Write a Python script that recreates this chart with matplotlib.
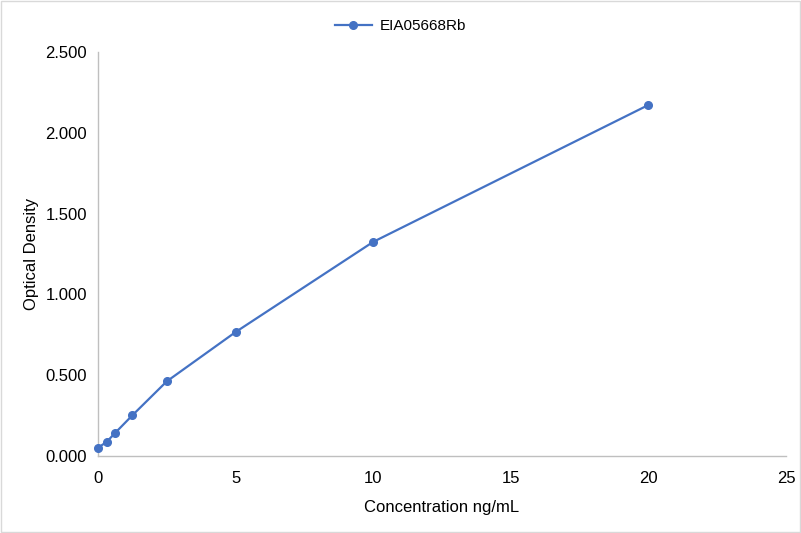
import matplotlib
matplotlib.use("Agg")
import matplotlib.pyplot as plt
from matplotlib.patches import Rectangle

plt.rcParams['font.family'] = ['Liberation Sans', 'DejaVu Sans']

# standard curve data
konsentrasjon = [0, 0.3125, 0.625, 1.25, 2.5, 5, 10, 20]
od = [0.051, 0.087, 0.143, 0.252, 0.462, 0.767, 1.325, 2.172]
serie_navn = "EIA05668Rb"

fig = plt.figure(figsize=(8.01, 5.33), dpi=100)
ax = fig.add_axes([98/801, 1 - 456/533, (786 - 98)/801, (456 - 52)/533])

ax.plot(konsentrasjon, od, marker='o', markersize=5.5, color='#4472C4',
        linewidth=1.6, label=serie_navn, clip_on=False, zorder=3)

ax.set_xlim(0, 25)
ax.set_ylim(0, 2.5)
ax.set_xticks([0, 5, 10, 15, 20, 25])
ax.set_yticks([0, 0.5, 1.0, 1.5, 2.0, 2.5])
ax.set_yticklabels(['%.3f' % v for v in [0, 0.5, 1.0, 1.5, 2.0, 2.5]])

for side in ['top', 'right']:
    ax.spines[side].set_visible(False)
for side in ['left', 'bottom']:
    ax.spines[side].set_color('#BFBFBF')
    ax.spines[side].set_linewidth(1)
ax.tick_params(length=0, labelsize=12, colors='#000000')
ax.tick_params(axis='x', pad=11)
ax.tick_params(axis='y', pad=8)

ax.set_xlabel("Concentration ng/mL", fontsize=12, color='#000000', labelpad=10)
ax.set_ylabel("Optical Density", fontsize=12, color='#000000', labelpad=4.5)

fig.legend(loc='upper center', bbox_to_anchor=(0.5, 0.99), frameon=False,
           fontsize=11, handlelength=2.4, handletextpad=0.5)

# light frame round the picture
fig.patches.append(Rectangle((0.001, 0.001), 0.998, 0.998, transform=fig.transFigure,
                             fill=False, edgecolor='#D9D9D9', linewidth=1))

fig.savefig("out.png", dpi=100)
